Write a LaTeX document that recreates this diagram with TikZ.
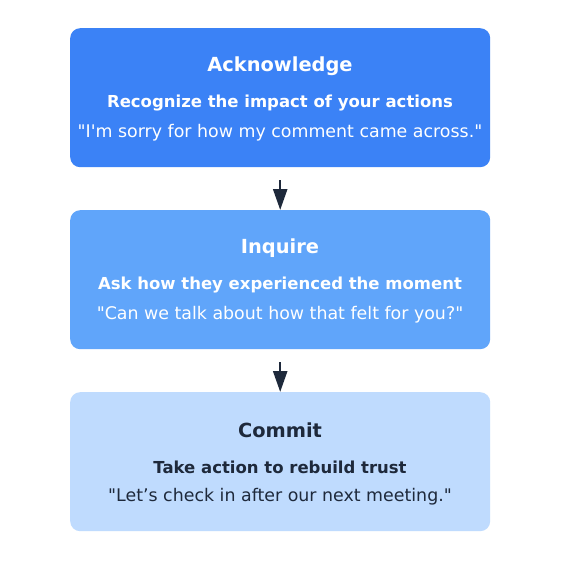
\documentclass[tikz,border=0pt]{standalone}
\usepackage{fontspec}
\setmainfont{DejaVu Sans}[Ligatures=TeXOff]
\usetikzlibrary{arrows.meta,positioning}
\definecolor{bA}{HTML}{3B82F6}
\definecolor{bB}{HTML}{60A5FA}
\definecolor{bC}{HTML}{BFDBFE}
\definecolor{ink}{HTML}{1E293B}
\tikzset{
  box/.style={draw=none, rounded corners=10pt, minimum width=420pt, minimum height=139pt, inner sep=0pt, anchor=north west},
  ttl/.style={font=\fontsize{19.4}{22}\selectfont\bfseries, inner sep=0pt, anchor=center},
  sub/.style={font=\fontsize{16.5}{19}\selectfont\bfseries, inner sep=0pt, anchor=center},
  quo/.style={font=\fontsize{17.4}{20}\selectfont, inner sep=0pt, anchor=center},
  arr/.style={draw=ink, line width=2.5pt, -{Triangle[length=21pt,width=14pt]}, shorten <=13pt}
}
\begin{document}
\begin{tikzpicture}[x=1pt,y=-1pt]
\useasboundingbox[fill=white] (0,0) rectangle (560,588);
\node[box, fill=bA] (b1) at (70,28) {};
\node[box, fill=bB] (b2) at (70,210) {};
\node[box, fill=bC] (b3) at (70,392) {};
\node[ttl, text=white] (t1) at (280,66) {Acknowledge};
\node[sub, text=white] (s1) at (280,103) {Recognize the impact of your actions};
\node[quo, text=white] (q1) at (280,133) {"I'm sorry for how my comment came across."};
\node[ttl, text=white] (t2) at (280,248) {Inquire};
\node[sub, text=white] (s2) at (280,285) {Ask how they experienced the moment};
\node[quo, text=white] (q2) at (280,315) {"Can we talk about how that felt for you?"};
\node[ttl, text=ink] (t3) at (280,430) {Commit};
\node[sub, text=ink] (s3) at (280,467) {Take action to rebuild trust};
\node[quo, text=ink] (q3) at (280,497) {"Let’s check in after our next meeting."};
\draw[arr] (b1.south) -- (b2.north);
\draw[arr] (b2.south) -- (b3.north);
\end{tikzpicture}
\end{document}
